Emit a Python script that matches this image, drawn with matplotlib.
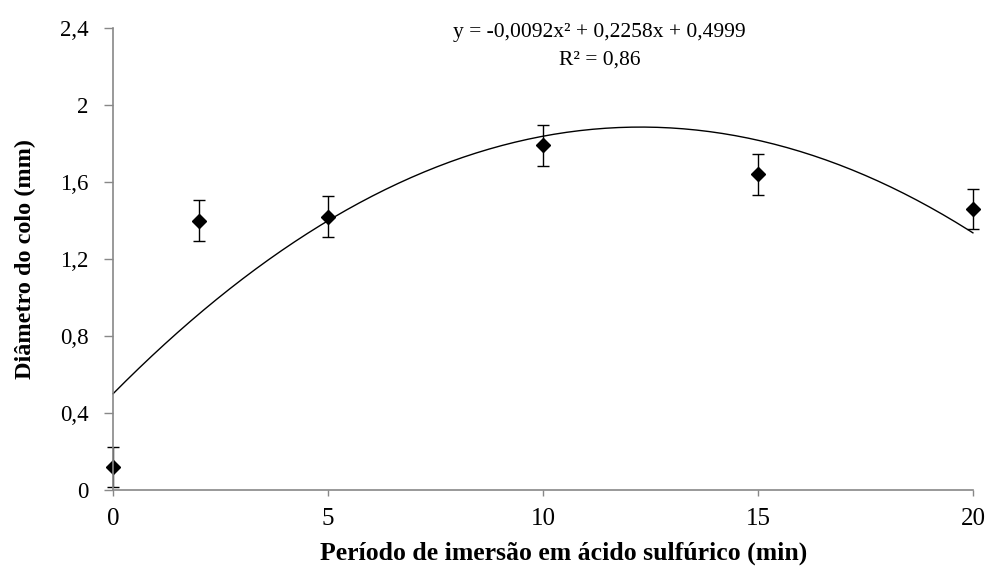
import matplotlib
matplotlib.use("Agg")
import matplotlib.pyplot as plt
import numpy as np

plt.rcParams['font.family'] = ['Liberation Serif', 'DejaVu Serif']

periods = [0, 2, 5, 10, 15, 20]
diam = [0.12, 1.40, 1.42, 1.79, 1.64, 1.46]
err = [0.105, 0.105, 0.105, 0.105, 0.105, 0.105]
coef = [-0.0092, 0.2258, 0.4999]
xticks = [0, 5, 10, 15, 20]
yticks = [0, 0.4, 0.8, 1.2, 1.6, 2.0, 2.4]
ytick_labels = ['0', '0,4', '0,8', '1,2', '1,6', '2', '2,4']

fig = plt.figure(figsize=(10.03, 5.68), dpi=100)
ax = fig.add_axes([0.1127, 0.1373, 0.8573, 0.8134])

xf = np.linspace(0, 20, 200)
yf = np.polyval(coef, xf)
ax.plot(xf, yf, color='black', lw=1.0)

ax.errorbar(periods, diam, yerr=err, fmt='D', color='black', ms=7.5,
            ecolor='black', elinewidth=1.0, capsize=4, capthick=1.0)

ax.set_xlim(0, 20)
ax.set_ylim(0, 2.4)
ax.set_xticks(xticks)
ax.set_xticklabels([str(t) for t in xticks])
ax.set_yticks(yticks)
ax.set_yticklabels(ytick_labels)
for s in ['top', 'right']:
    ax.spines[s].set_visible(False)
for s in ['left', 'bottom']:
    ax.spines[s].set_color('#888888')
    ax.spines[s].set_linewidth(1.2)
ax.tick_params(axis='both', colors='#888888', labelcolor='black',
               width=1.0, direction='out')
ax.tick_params(axis='x', labelsize=18, length=4.5, pad=8.5)
ax.tick_params(axis='y', labelsize=16.5, length=6.5, pad=11)
for art in ax.get_children():
    try:
        art.set_clip_on(False)
    except Exception:
        pass

ax.set_xlabel('Período de imersão em ácido sulfúrico (min)', fontsize=18.5,
              fontweight='bold')
ax.xaxis.set_label_coords(0.524, -0.112)
ax.set_ylabel('Diâmetro do colo (mm)', fontsize=17.5, fontweight='bold')
ax.yaxis.set_label_coords(-0.09, 0.5)

fig.text(0.598, 1 - 37 / 568, 'y = -0,0092x² + 0,2258x + 0,4999', ha='center',
         va='baseline', fontsize=15.5)
fig.text(0.598, 1 - 65 / 568, 'R² = 0,86', ha='center', va='baseline', fontsize=15.5)

fig.savefig('out.png', dpi=100)
